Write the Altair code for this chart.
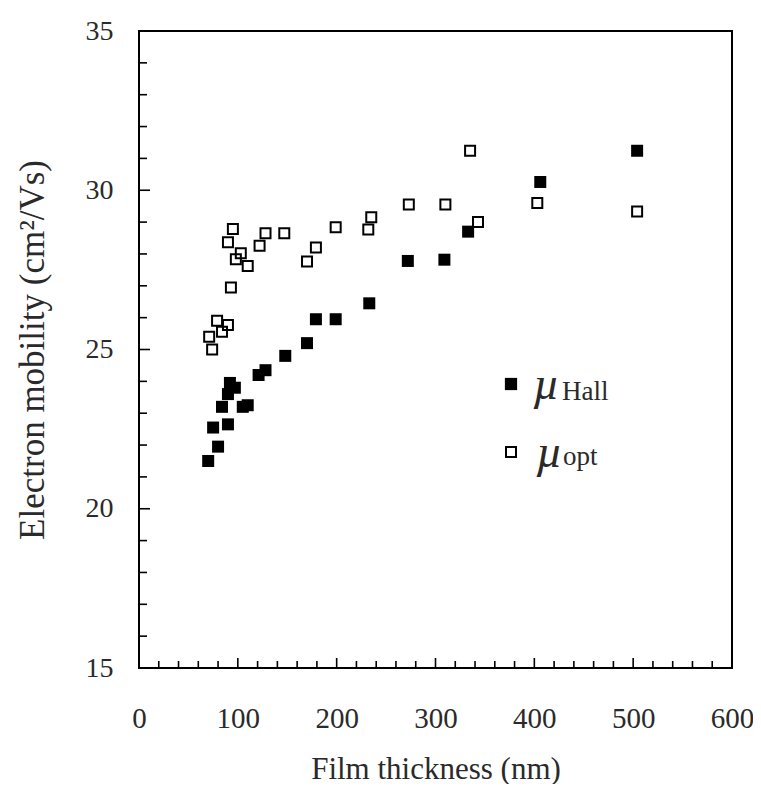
import altair as alt
import pandas as pd

# ---- data ----
hall_thickness = [70, 75, 80, 84, 90, 90, 92, 97, 105, 110, 121, 128, 148,
                  170, 179, 199, 233, 272, 309, 333, 406, 504]
hall_mobility = [21.5, 22.55, 21.95, 23.2, 22.65, 23.6, 23.95, 23.8, 23.2, 23.25, 24.2, 24.35, 24.8,
                 25.2, 25.95, 25.95, 26.45, 27.78, 27.82, 28.7, 30.26, 31.24]

opt_thickness = [71, 74, 79, 84, 90, 93, 90, 95, 98, 103, 110, 122, 128, 147,
                 170, 179, 199, 232, 235, 273, 310, 335, 343, 403, 504]
opt_mobility = [25.4, 25.0, 25.9, 25.56, 25.77, 26.95, 28.37, 28.78, 27.83, 28.02, 27.62, 28.26, 28.65, 28.65,
                27.76, 28.2, 28.84, 28.77, 29.15, 29.55, 29.55, 31.24, 29.0, 29.6, 29.33]

x_major = [0, 100, 200, 300, 400, 500, 600]
x_minor = [v for v in range(20, 600, 20) if v % 100 != 0]
y_major = [15, 20, 25, 30, 35]
y_minor = [v for v in range(16, 35) if v % 5 != 0]

W, H = 593, 637
FONT = "Liberation Serif"
INK = "#2a2a2a"

xs = alt.Scale(domain=[0, 600], nice=False, zero=False)
ys = alt.Scale(domain=[15, 35], nice=False, zero=False)

hall_df = pd.DataFrame({"t": hall_thickness, "m": hall_mobility})
opt_df = pd.DataFrame({"t": opt_thickness, "m": opt_mobility})

x_axis = alt.Axis(values=x_major, tickSize=0, domain=False, grid=False, labelPadding=36,
                  labelFlush=False, labelFontSize=29, labelFont=FONT, labelColor=INK,
                  title="Film thickness (nm)", titleFont=FONT, titleFontSize=31,
                  titleFontWeight="normal", titleColor=INK,
                  titleX=W / 2, titleY=110, titleBaseline="alphabetic")
y_axis = alt.Axis(values=y_major, tickSize=0, domain=False, grid=False, labelPadding=26,
                  labelFlush=False, labelFontSize=28, labelFont=FONT, labelColor=INK,
                  title="Electron mobility (cm²/Vs)", titleFont=FONT, titleFontSize=35,
                  titleFontWeight="normal", titleColor=INK,
                  titleX=-107, titleY=H / 2, titleBaseline="middle")

hall = alt.Chart(hall_df).mark_point(shape="square", filled=True, size=144, color="black", opacity=1).encode(
    x=alt.X("t:Q", scale=xs, axis=x_axis),
    y=alt.Y("m:Q", scale=ys, axis=y_axis),
)
opt = alt.Chart(opt_df).mark_point(shape="square", filled=False, size=100, color="black",
                                    strokeWidth=2, opacity=1).encode(
    x=alt.X("t:Q", scale=xs, axis=x_axis),
    y=alt.Y("m:Q", scale=ys, axis=y_axis),
)

def yticks(vals, length):
    return alt.Chart(pd.DataFrame({"v": vals})).mark_rule(color="black", strokeWidth=1.6).encode(
        y=alt.Y("v:Q", scale=ys, axis=y_axis), x=alt.value(0), x2=alt.value(length))

def xticks(vals, length):
    return alt.Chart(pd.DataFrame({"v": vals})).mark_rule(color="black", strokeWidth=1.6).encode(
        x=alt.X("v:Q", scale=xs, axis=x_axis), y=alt.value(H), y2=alt.value(H - length))

# legend (manual, to allow subscripts)
leg_y1, leg_y2 = 353, 421
leg_sq_x = 372
leg_fill = alt.Chart(pd.DataFrame({"a": [0]})).mark_point(
    shape="square", filled=True, size=150, color="black", opacity=1).encode(
    x=alt.value(leg_sq_x), y=alt.value(leg_y1))
leg_open = alt.Chart(pd.DataFrame({"a": [0]})).mark_point(
    shape="square", filled=False, size=100, color="black", strokeWidth=2, opacity=1).encode(
    x=alt.value(leg_sq_x), y=alt.value(leg_y2))
MU = "\u00b5"
def legtext(s, x, y, size, italic):
    kw = dict(font=FONT, fontSize=size, color=INK, align="left", baseline="alphabetic")
    if italic:
        kw["fontStyle"] = "italic"
    return alt.Chart(pd.DataFrame({"s": [s]})).mark_text(**kw).encode(
        text="s:N", x=alt.value(x), y=alt.value(y))

mu1 = legtext(MU, 394, leg_y1 + 15, 46, True)
sub1 = legtext("Hall", 423, leg_y1 + 16, 27, False)
mu2 = legtext(MU, 397, leg_y2 + 15, 46, True)
sub2 = legtext("opt", 424, leg_y2 + 13, 27, False)

chart = alt.layer(
    opt, hall, yticks(y_minor, 8), yticks(y_major, 11), xticks(x_minor, 7), xticks(x_major, 10),
    leg_fill, leg_open, mu1, sub1, mu2, sub2,
).properties(
    width=W, height=H,
    autosize=alt.AutoSizeParams(type="none"),
    padding={"left": 131, "top": 23, "right": 21, "bottom": 116},
).configure(
    background="white",
    view=alt.ViewConfig(stroke="black", strokeWidth=2),
)

chart.save("out.html", embed_options={"renderer": "svg", "actions": False})
